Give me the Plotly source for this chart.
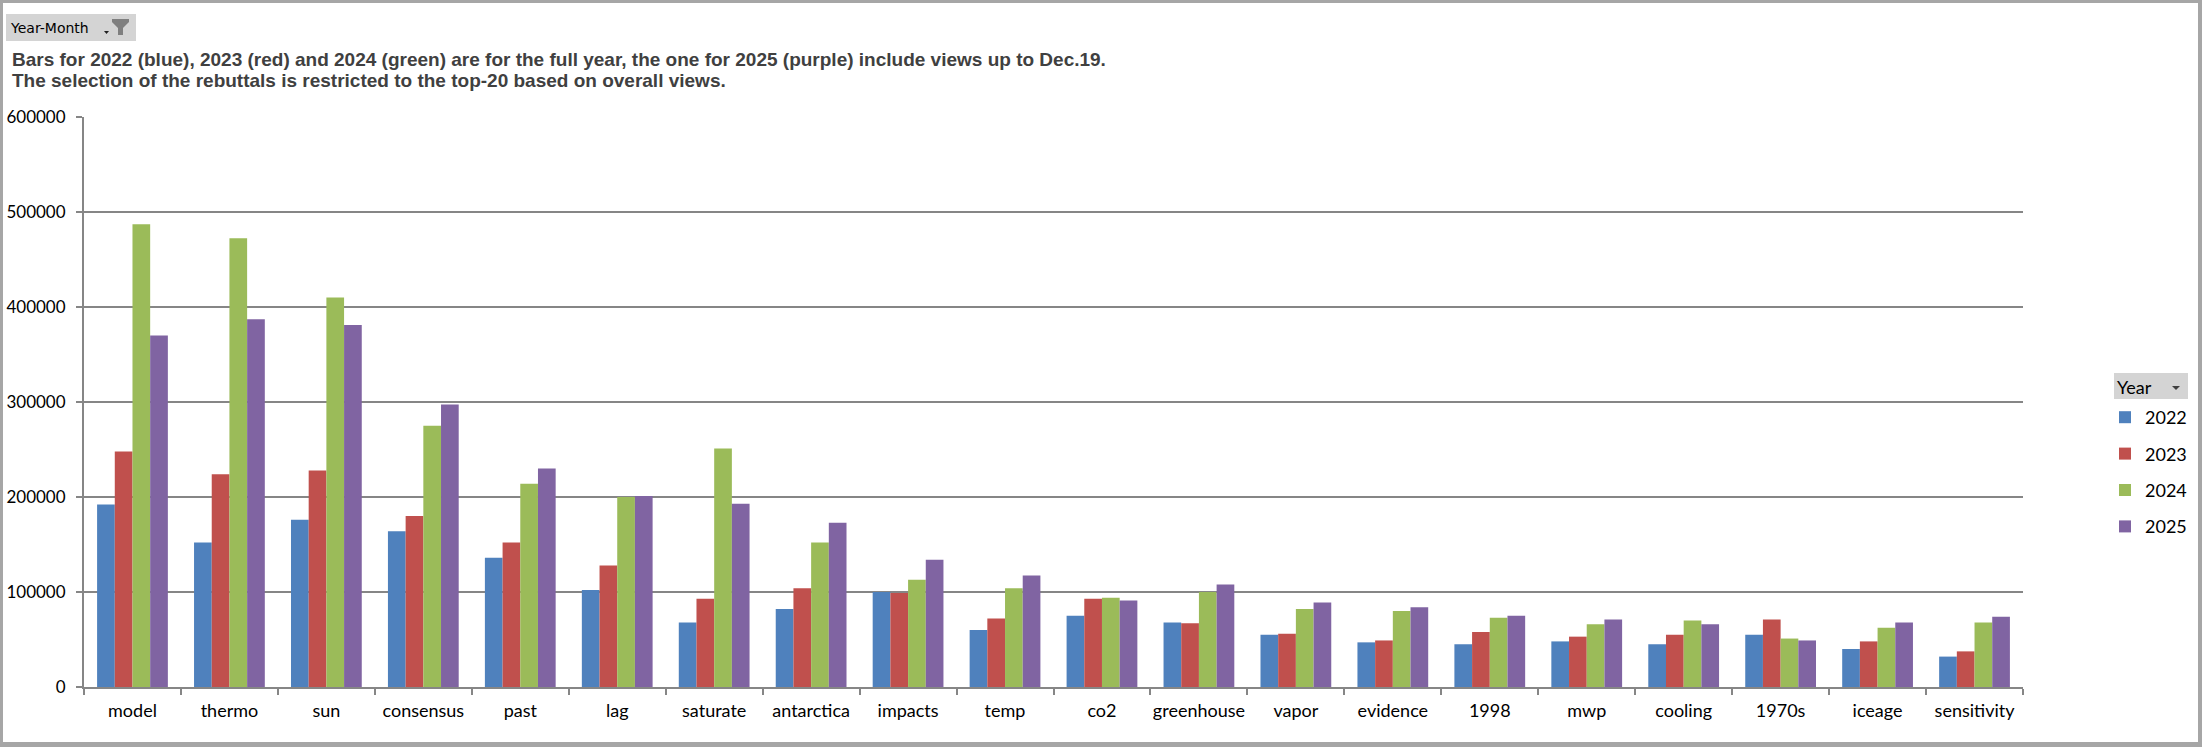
import plotly.graph_objects as go

categories = ["model", "thermo", "sun", "consensus", "past", "lag", "saturate",
              "antarctica", "impacts", "temp", "co2", "greenhouse", "vapor",
              "evidence", "1998", "mwp", "cooling", "1970s", "iceage", "sensitivity"]
years = ["2022", "2023", "2024", "2025"]
views_2022 = [192000, 152000, 176000, 164000, 136000, 102000, 68000, 82000, 100000, 60000,
              75000, 68000, 55000, 47000, 45000, 48000, 45000, 55000, 40000, 32000]
views_2023 = [248000, 224000, 228000, 180000, 152000, 128000, 93000, 104000, 99000, 72000,
              93000, 67000, 56000, 49000, 58000, 53000, 55000, 71000, 48000, 37500]
views_2024 = [487000, 472500, 410000, 275000, 214000, 200000, 251000, 152000, 113000, 104000,
              94000, 100000, 82000, 80000, 73000, 66000, 70000, 51000, 62500, 68000]
views_2025 = [370000, 387000, 381000, 297500, 230000, 201000, 193000, 173000, 134000, 117500,
              91000, 108000, 89000, 84000, 75000, 71000, 66000, 49000, 68000, 74000]
colors = ["#4F81BD", "#C0504D", "#9BBB59", "#8064A2"]
y_ticks = [0, 100000, 200000, 300000, 400000, 500000, 600000]

title_line1 = ("Bars for 2022 (blue), 2023 (red) and 2024 (green) are for the full year, "
               "the one for 2025 (purple) include views up to Dec.19.")
title_line2 = "The selection of the rebuttals is restricted to the top-20 based on overall views."

W, H = 2202, 747
ML, MR, MT, MB = 84, 179, 117, 60
PW, PH = W - ML - MR, H - MT - MB


def px(x):
    return (x - ML) / PW


def py(y):
    return (H - MB - y) / PH


def path(points):
    return "M " + " L ".join(f"{px(a):.6f},{py(b):.6f}" for a, b in points) + " Z"


def rect(x0, y0, x1, y1, color, layer="above"):
    return dict(type="rect", xref="paper", yref="paper", x0=px(x0), x1=px(x1),
                y0=py(y1), y1=py(y0), fillcolor=color, line=dict(width=0), layer=layer)


fig = go.Figure()
for yr, vals, col in zip(years, [views_2022, views_2023, views_2024, views_2025], colors):
    fig.add_trace(go.Bar(x=categories, y=vals, name=yr, marker=dict(color=col, line=dict(width=0)),
                         legendgroup=yr))

axis_gray = "#868686"
fig.update_layout(
    width=W, height=H,
    margin=dict(l=ML, r=MR, t=MT, b=MB, autoexpand=False),
    paper_bgcolor="white", plot_bgcolor="white",
    barmode="group", bargap=0.27, bargroupgap=0,
    font=dict(family="Lato", size=18, color="black"),
    xaxis=dict(type="category", showline=True, linecolor=axis_gray, linewidth=2,
               ticks="outside", tickson="boundaries", ticklen=6, tickwidth=2,
               tickcolor=axis_gray, showgrid=False, ticklabelstandoff=6, tickangle=0,
               tickfont=dict(family="Lato", size=18, color="black")),
    yaxis=dict(range=[0, 600000], tickvals=y_ticks, tickformat="d", showline=True,
               linecolor=axis_gray, linewidth=2, ticks="outside", ticklen=6, tickwidth=2,
               tickcolor=axis_gray, showgrid=True, gridcolor=axis_gray, gridwidth=2,
               zeroline=False, ticklabelstandoff=7,
               tickfont=dict(family="Lato", size=17, color="black")),
    legend=dict(x=px(2105), xanchor="left", y=py(399), yanchor="top",
                traceorder="grouped", tracegroupgap=10,
                font=dict(family="Lato", size=18, color="black"),
                bgcolor="rgba(0,0,0,0)"),
    showlegend=True,
)

shapes = [
    # outer frame
    rect(0, 0, 3, H, "#a6a6a6"),
    rect(0, 0, W, 3, "#a6a6a6"),
    rect(2198, 0, W, H, "#a6a6a6"),
    rect(0, 742, W, H, "#a6a6a6"),
    # Year-Month button
    rect(6, 14, 136, 41, "#d4d4d4"),
    dict(type="path", xref="paper", yref="paper", layer="above", line=dict(width=0),
         fillcolor="#7f7f7f",
         path=path([(112, 19), (129, 19), (129, 22), (123, 28), (123, 35), (118, 35),
                    (118, 28), (112, 22)])),
    dict(type="path", xref="paper", yref="paper", layer="above", line=dict(width=0),
         fillcolor="#202020", path=path([(104, 31), (109, 31), (106.5, 34)])),
    # Year legend header
    rect(2114, 373, 2188, 399, "#d4d4d4"),
    dict(type="path", xref="paper", yref="paper", layer="above", line=dict(width=0),
         fillcolor="#404040", path=path([(2172, 386), (2180, 386), (2176, 390)])),
]
fig.update_layout(shapes=shapes)

annotations = [
    dict(text="<b>" + title_line1 + "</b>", x=px(11), y=py(60), xanchor="left", yanchor="middle",
         font=dict(family="Liberation Sans", size=19, color="#404040")),
    dict(text="<b>" + title_line2 + "</b>", x=px(11), y=py(80), xanchor="left", yanchor="middle",
         font=dict(family="Liberation Sans", size=19, color="#404040")),
    dict(text="Year-Month", x=px(9), y=py(28), xanchor="left", yanchor="middle",
         font=dict(family="DejaVu Sans", size=14, color="black")),
    dict(text="Year", x=px(2116), y=py(387), xanchor="left", yanchor="middle",
         font=dict(family="Lato", size=18, color="black")),
]
for a in annotations:
    a.update(xref="paper", yref="paper", showarrow=False, borderpad=0)
fig.update_layout(annotations=annotations)

fig.write_html("out.html", config={"displayModeBar": False},
               post_script="document.body.style.margin='0';document.body.style.overflow='hidden';")
